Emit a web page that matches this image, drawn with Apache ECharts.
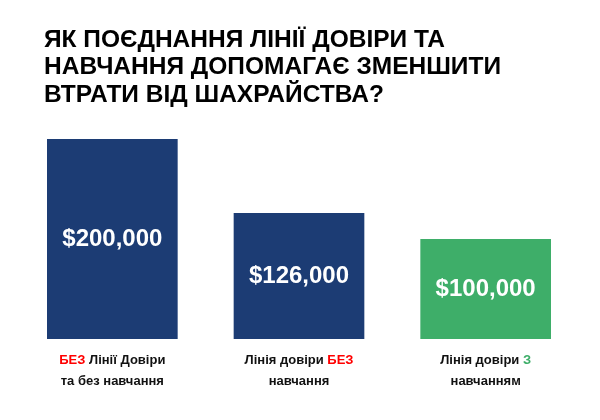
<!DOCTYPE html>
<html><head><meta charset="utf-8">
<script src="https://cdn.jsdelivr.net/npm/echarts@6/dist/echarts.min.js"></script>
<style>html,body{margin:0;padding:0;background:#fff}#c{width:600px;height:420px}</style>
</head><body><div id="c"></div>
<script>
const categories = [
  '{r|БЕЗ} Лінії Довіри\nта без навчання',
  'Лінія довіри {r|БЕЗ}\nнавчання',
  'Лінія довіри {g|З}\nнавчанням'
];
const values = [200000, 126000, 100000];
const barColors = ['#1c3c74', '#1c3c74', '#3eae69'];
const titleText = 'ЯК ПОЄДНАННЯ ЛІНІЇ ДОВІРИ ТА\nНАВЧАННЯ ДОПОМАГАЄ ЗМЕНШИТИ\nВТРАТИ ВІД ШАХРАЙСТВА?';

const chart = echarts.init(document.getElementById('c'));
chart.setOption({
  backgroundColor: '#fff',
  title: {
    text: titleText, left: 39, top: 21,
    textStyle: { fontFamily: 'Liberation Sans', fontWeight: 'bold', fontSize: 24.5, lineHeight: 27.5, color: '#000' }
  },
  grid: { left: 19, right: 21, top: 139, bottom: 81, containLabel: false },
  xAxis: {
    type: 'category', data: categories,
    axisLine: { show: false }, axisTick: { show: false },
    axisLabel: {
      margin: 11, interval: 0,
      fontFamily: 'Liberation Sans', fontWeight: 'bold', fontSize: 13, lineHeight: 21, color: '#111',
      rich: {
        r: { color: '#ff0000', fontFamily: 'Liberation Sans', fontWeight: 'bold', fontSize: 13, lineHeight: 21 },
        g: { color: '#3eae69', fontFamily: 'Liberation Sans', fontWeight: 'bold', fontSize: 13, lineHeight: 21 }
      }
    }
  },
  yAxis: { type: 'value', min: 0, max: 200000, show: false, splitLine: { show: false } },
  series: [{
    type: 'bar', barWidth: '70%',
    data: values.map((v, i) => ({ value: v, itemStyle: { color: barColors[i] } })),
    label: {
      show: true, position: 'inside', color: '#fff',
      fontFamily: 'Liberation Sans', fontWeight: 'bold', fontSize: 24,
      formatter: p => '$' + p.value.toLocaleString('en-US')
    }
  }]
});
</script></body></html>
